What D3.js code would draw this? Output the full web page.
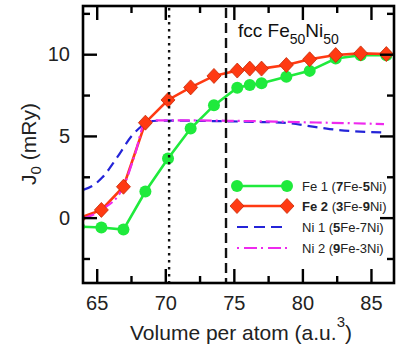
<!DOCTYPE html>
<html><head><meta charset="utf-8">
<script src="https://cdn.jsdelivr.net/npm/d3@7"></script>
<style>
html,body{margin:0;padding:0;background:#fff;}
svg{display:block;font-family:"Liberation Sans",Arial,Helvetica,sans-serif;}
</style></head>
<body>
<svg id="chart" width="396" height="347"></svg>
<script>
// ---- data ----
const volumes = [63.7, 65.34, 66.95, 68.55, 70.2, 71.85, 73.55, 75.25, 76.16, 77.02, 78.83, 80.53, 82.43, 84.25, 86.12];
const fe1 = [-0.55, -0.6, -0.73, 1.6, 3.62, 5.45, 6.87, 7.95, 8.12, 8.23, 8.62, 8.98, 9.74, 9.94, 9.94];
const fe2 = [-0.04, 0.47, 1.89, 5.81, 7.2, 7.97, 8.67, 9.0, 9.12, 9.12, 9.34, 9.69, 9.95, 10.05, 10.01];
const ni1V = [64.0, 64.7, 65.4, 66.5, 67.6, 68.2, 68.6, 69.5, 71, 74, 77, 79, 80.5, 82, 83.5, 85.75];
const ni1J = [1.7, 1.95, 2.45, 3.7, 5.05, 5.55, 5.85, 5.93, 5.93, 5.9, 5.85, 5.78, 5.6, 5.42, 5.3, 5.22];
const ni2V = [64.0, 65.34, 66.95, 67.8, 68.55, 69.5, 72, 75, 78, 81, 83.5, 85.95];
const ni2J = [-0.05, 0.47, 1.9, 3.9, 5.85, 5.95, 5.95, 5.92, 5.88, 5.82, 5.78, 5.72];
const xMajor = [65, 70, 75, 80, 85];
const xMinor = [67.5, 72.5, 77.5, 82.5];
const yMajor = [0, 5, 10];
const yMinor = [-2.5, 2.5, 7.5, 12.5];
const vLineDotted = 70.28;
const vLineDashed = 74.43;
const legendItems = [
  {key: "fe1", parts: [["Fe 1 (", false], ["7", true], ["Fe-", false], ["5", true], ["Ni)", false]]},
  {key: "fe2", parts: [["Fe 2", true], [" (", false], ["3", true], ["Fe-", false], ["9", true], ["Ni)", false]]},
  {key: "ni1", parts: [["Ni 1 (", false], ["5", true], ["Fe-7Ni)", false]]},
  {key: "ni2", parts: [["Ni 2 (", false], ["9", true], ["Fe-3Ni)", false]]}
];

// ---- layout ----
const L = 83, R = 394, T = 6, B = 283;
const x = d3.scaleLinear().domain([64.0, 86.68]).range([L, R]);
const y = d3.scaleLinear().domain([-4, 12.95]).range([B, T]);
const GREEN = "#1fea3c", RED = "#ff3a12", REDEDGE = "#c52a05", BLUE = "#2424d8", MAG = "#ee2aee";

const svg = d3.select("#chart");
svg.append("defs").append("clipPath").attr("id", "clip")
  .append("rect").attr("x", L).attr("y", T).attr("width", R - L).attr("height", B - T);

const plot = svg.append("g").attr("clip-path", "url(#clip)");

// Ni lines
const ni1 = ni1V.map((v, i) => [v, ni1J[i]]);
const ni2 = ni2V.map((v, i) => [v, ni2J[i]]);
const curve = d3.line().x(d => x(d[0])).y(d => y(d[1])).curve(d3.curveMonotoneX);
plot.append("path").attr("d", curve(ni1)).attr("fill", "none").attr("stroke", BLUE)
  .attr("stroke-width", 2.2).attr("stroke-dasharray", "10,6");

// Fe lines
const fe1pts = volumes.map((v, i) => [v, fe1[i]]);
const fe2pts = volumes.map((v, i) => [v, fe2[i]]);
const lin = d3.line().x(d => x(d[0])).y(d => y(d[1]));
plot.append("path").attr("d", lin(fe1pts)).attr("fill", "none").attr("stroke", GREEN).attr("stroke-width", 2.6);
plot.append("path").attr("d", lin(fe2pts)).attr("fill", "none").attr("stroke", RED).attr("stroke-width", 2.6);
plot.append("path").attr("d", curve(ni2)).attr("fill", "none").attr("stroke", MAG)
  .attr("stroke-width", 2.2).attr("stroke-dasharray", "12,4,2,4");

const diamondPath = "M0,-7.5L7,0L0,7.5L-7,0Z";
plot.selectAll(".c").data(fe1pts).join("circle")
  .attr("cx", d => x(d[0])).attr("cy", d => y(d[1])).attr("r", 6).attr("fill", GREEN);
plot.selectAll(".d").data(fe2pts).join("path")
  .attr("d", diamondPath).attr("transform", d => `translate(${x(d[0])},${y(d[1])})`)
  .attr("fill", RED).attr("stroke", REDEDGE).attr("stroke-width", 0.8);

// vertical reference lines
svg.append("line").attr("x1", x(vLineDotted)).attr("x2", x(vLineDotted)).attr("y1", T + 2).attr("y2", B)
  .attr("stroke", "#111").attr("stroke-width", 2.4).attr("stroke-dasharray", "2.5,4.5");
svg.append("line").attr("x1", x(vLineDashed)).attr("x2", x(vLineDashed)).attr("y1", T + 2).attr("y2", B)
  .attr("stroke", "#111").attr("stroke-width", 2.4).attr("stroke-dasharray", "10,5");

// axes
function styleAxis(g) {
  g.select(".domain").remove();
  g.selectAll(".tick line").attr("stroke", "#000").attr("stroke-width", 2.4);
  g.selectAll(".tick text").attr("fill", "#222").style("font-size", "20px")
    .style("font-family", "'Liberation Sans',Arial,Helvetica,sans-serif");
}
svg.append("g").attr("transform", `translate(0,${B})`)
  .call(d3.axisBottom(x).tickValues(xMajor).tickSize(-14).tickPadding(13).tickFormat(d3.format("d"))).call(styleAxis);
svg.append("g").attr("transform", `translate(0,${B})`)
  .call(d3.axisBottom(x).tickValues(xMinor).tickSize(-7).tickFormat("")).call(styleAxis);
svg.append("g").attr("transform", `translate(0,${T})`)
  .call(d3.axisTop(x).tickValues(xMajor).tickSize(-14).tickFormat("")).call(styleAxis);
svg.append("g").attr("transform", `translate(0,${T})`)
  .call(d3.axisTop(x).tickValues(xMinor).tickSize(-7).tickFormat("")).call(styleAxis);
svg.append("g").attr("transform", `translate(${L},0)`)
  .call(d3.axisLeft(y).tickValues(yMajor).tickSize(-14).tickPadding(13).tickFormat(d3.format("d"))).call(styleAxis);
svg.append("g").attr("transform", `translate(${L},0)`)
  .call(d3.axisLeft(y).tickValues(yMinor).tickSize(-7).tickFormat("")).call(styleAxis);
svg.append("g").attr("transform", `translate(${R},0)`)
  .call(d3.axisRight(y).tickValues(yMajor).tickSize(-14).tickFormat("")).call(styleAxis);
svg.append("g").attr("transform", `translate(${R},0)`)
  .call(d3.axisRight(y).tickValues(yMinor).tickSize(-7).tickFormat("")).call(styleAxis);

// frame
svg.append("rect").attr("x", L).attr("y", T).attr("width", R - L).attr("height", B - T)
  .attr("fill", "none").attr("stroke", "#000").attr("stroke-width", 2.6);

// annotation
const ann = svg.append("text").attr("x", 238).attr("y", 37).attr("fill", "#111").style("font-size", "19px");
ann.append("tspan").text("fcc Fe");
ann.append("tspan").attr("dy", 7).style("font-size", "14px").text("50");
ann.append("tspan").attr("dy", -7).text("Ni");
ann.append("tspan").attr("dy", 7).style("font-size", "14px").text("50");

// axis titles
const xt = svg.append("text").attr("x", 241).attr("y", 340).attr("text-anchor", "middle")
  .attr("fill", "#222").style("font-size", "21px");
xt.append("tspan").text("Volume per atom (a.u.");
xt.append("tspan").attr("dy", -13).style("font-size", "15px").text("3");
xt.append("tspan").attr("dy", 13).text(")");

const yt = svg.append("text").attr("transform", "translate(36,144) rotate(-90)").attr("text-anchor", "middle")
  .attr("fill", "#222").style("font-size", "21px");
yt.append("tspan").text("J");
yt.append("tspan").attr("dy", 5).style("font-size", "15px").text("0");
yt.append("tspan").attr("dy", -5).text(" (mRy)");

// legend
const lgY = [186, 206, 227, 248];
const lx1 = 237, lx2 = 287, ltx = 302;
legendItems.forEach((it, i) => {
  const yy = lgY[i];
  const g = svg.append("g");
  if (it.key === "fe1") {
    g.append("line").attr("x1", lx1).attr("x2", lx2).attr("y1", yy).attr("y2", yy).attr("stroke", GREEN).attr("stroke-width", 2.6);
    [lx1, lx2].forEach(px => g.append("circle").attr("cx", px).attr("cy", yy).attr("r", 6).attr("fill", GREEN));
  } else if (it.key === "fe2") {
    g.append("line").attr("x1", lx1).attr("x2", lx2).attr("y1", yy).attr("y2", yy).attr("stroke", RED).attr("stroke-width", 2.6);
    [lx1, lx2].forEach(px => g.append("path").attr("d", diamondPath)
      .attr("transform", `translate(${px},${yy})`).attr("fill", RED).attr("stroke", REDEDGE).attr("stroke-width", 0.8));
  } else if (it.key === "ni1") {
    g.append("line").attr("x1", lx1).attr("x2", lx2).attr("y1", yy).attr("y2", yy).attr("stroke", BLUE)
      .attr("stroke-width", 2.2).attr("stroke-dasharray", "11,6");
  } else {
    g.append("line").attr("x1", lx1).attr("x2", lx2).attr("y1", yy).attr("y2", yy).attr("stroke", MAG)
      .attr("stroke-width", 2.2).attr("stroke-dasharray", "2,5,13,4");
  }
  const t = g.append("text").attr("x", ltx).attr("y", yy + 5).attr("fill", "#222").style("font-size", "13px");
  it.parts.forEach(p => t.append("tspan").attr("font-weight", p[1] ? "bold" : "normal").text(p[0]));
});
</script>
</body></html>
